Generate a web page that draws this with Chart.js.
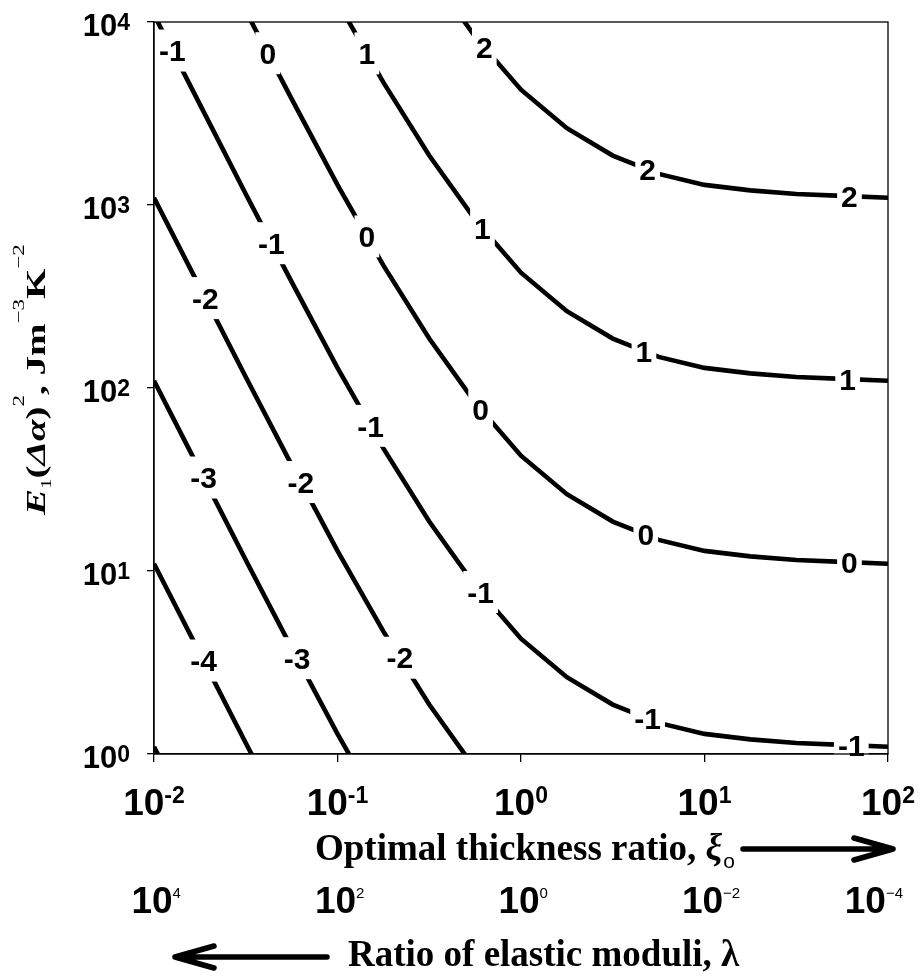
<!DOCTYPE html>
<html>
<head>
<meta charset="utf-8">
<script src="https://cdn.jsdelivr.net/npm/chart.js@4.4.1/dist/chart.umd.min.js"></script>
<style>
  html, body { margin: 0; padding: 0; background: #fff; }
  #wrap { width: 922px; height: 976px; }
</style>
</head>
<body>
<div id="wrap"><canvas id="contourChart" width="922" height="976"></canvas></div>
<script>
// log10 of the optimal thickness ratio, one sample every quarter decade
const xiExp = [-2, -1.75, -1.5, -1.25, -1, -0.75, -0.5, -0.25, 0, 0.25, 0.5, 0.75, 1, 1.25, 1.5, 1.75, 2];

// contour levels, and log10 E1(Δα)^2 (null = off the plot)
const levels = [2, 1, 0, -1, -2, -3, -4, -5];
const level2  = [null, null, null, null, null, null, 4.27, 3.92, 3.63, 3.42, 3.27, 3.17, 3.11, 3.08, 3.06, 3.05, 3.04];
const level1  = [null, null, null, null, 4.11, 3.67, 3.27, 2.92, 2.63, 2.42, 2.27, 2.17, 2.11, 2.08, 2.06, 2.05, 2.04];
const level0  = [null, null, 4.06, 3.58, 3.11, 2.67, 2.27, 1.92, 1.63, 1.42, 1.27, 1.17, 1.11, 1.08, 1.06, 1.05, 1.04];
const levelM1 = [4.04, 3.55, 3.06, 2.58, 2.11, 1.67, 1.27, 0.92, 0.63, 0.42, 0.27, 0.17, 0.11, 0.08, 0.06, 0.05, 0.04];
const levelM2 = [3.04, 2.55, 2.06, 1.58, 1.11, 0.67, 0.27, -0.08, null, null, null, null, null, null, null, null, null];
const levelM3 = [2.04, 1.55, 1.06, 0.58, 0.11, -0.33, null, null, null, null, null, null, null, null, null, null, null];
const levelM4 = [1.04, 0.55, 0.06, -0.42, null, null, null, null, null, null, null, null, null, null, null, null, null];
const levelM5 = [0.04, -0.45, null, null, null, null, null, null, null, null, null, null, null, null, null, null, null];
const contours = [level2, level1, level0, levelM1, levelM2, levelM3, levelM4, levelM5];

// where the inline level labels sit on each contour (log10 xi)
const labelSpots = [
  [-0.20, 0.69, 1.79],
  [-0.84, -0.21, 0.67, 1.78],
  [-1.38, -0.84, -0.22, 0.68, 1.79],
  [-1.90, -1.36, -0.82, -0.22, 0.69, 1.80],
  [-1.72, -1.20, -0.66],
  [-1.73, -1.22],
  [-1.73],
  []
];

// axis ticks
const xTicks = [0.01, 0.1, 1, 10, 100];
const xTickExp = ["-2", "-1", "0", "1", "2"];
const yTicks = [1, 10, 100, 1000, 10000];
const yTickExp = ["0", "1", "2", "3", "4"];
const lambdaTicks = [1e4, 1e2, 1, 1e-2, 1e-4];
const lambdaTickExp = ["4", "2", "0", "\u22122", "\u22124"];

const SANS = '"Liberation Sans", Arial, sans-serif';
const SERIF = '"Liberation Serif", "Times New Roman", serif';
const ink = "#000";

function power(ctx, base, exp, x, baseline, bigFont, smallFont, rise, mode, maxRight) {
    ctx.font = bigFont;
    const bw = ctx.measureText(base).width;
    ctx.font = smallFont;
    const ew = ctx.measureText(exp).width;
    let left;
    if (mode === "right") left = x - bw - ew;
    else if (mode === "base") left = x - bw / 2;
    else left = x - (bw + ew) / 2;
    if (maxRight && left + bw + ew > maxRight) left = maxRight - bw - ew;
    ctx.textAlign = "left";
    ctx.font = bigFont;
    ctx.fillText(base, left, baseline);
    ctx.font = smallFont;
    ctx.fillText(exp, left + bw, baseline - rise);
}

function runs(ctx, parts, x, squash) {
    let cx = x;
    parts.forEach(([text, font, dy]) => {
        ctx.font = font;
        ctx.fillText(text, cx, dy / squash);
        cx += ctx.measureText(text).width;
    });
    return cx;
}

function arrow(ctx, x1, x2, y, dir) {
    ctx.beginPath();
    ctx.moveTo(x1, y);
    ctx.lineTo(x2, y);
    const tip = dir > 0 ? x2 : x1;
    ctx.moveTo(tip - dir * 39, y - 11);
    ctx.lineTo(tip, y);
    ctx.lineTo(tip - dir * 39, y + 11);
    ctx.stroke();
}

const decorations = {
    id: "decorations",
    afterDatasetsDraw(chart) {
        const ctx = chart.ctx;
        const xs = chart.scales.x;
        ctx.save();
        ctx.font = "bold 30px " + SANS;
        ctx.textAlign = "center";
        levels.forEach((lv, i) => {
            const pts = chart.getDatasetMeta(i).data;
            labelSpots[i].forEach(lx => {
                const px = xs.getPixelForValue(Math.pow(10, lx));
                let py = null;
                for (let k = 0; k < pts.length - 1; k++) {
                    const a = pts[k], b = pts[k + 1];
                    if (px >= a.x && px <= b.x) {
                        py = a.y + (b.y - a.y) * (px - a.x) / (b.x - a.x);
                        break;
                    }
                }
                if (py === null) return;
                const txt = String(lv);
                const w = ctx.measureText(txt).width;
                ctx.fillStyle = "#fff";
                ctx.fillRect(px - w / 2 - 4, py - 21, w + 8, 42);
                ctx.fillStyle = ink;
                ctx.fillText(txt, px, py + 10.7);
            });
        });
        ctx.restore();
    },
    afterDraw(chart) {
        const ctx = chart.ctx;
        const a = chart.chartArea;
        const xs = chart.scales.x, ys = chart.scales.y, ls = chart.scales.lam;
        ctx.save();
        ctx.strokeStyle = ink;
        ctx.lineWidth = 1.3;
        ctx.strokeRect(a.left, a.top, a.right - a.left, a.bottom - a.top);

        ctx.fillStyle = ink;
        // y tick labels
        yTicks.forEach((v, i) => {
            const py = ys.getPixelForValue(v);
            power(ctx, "10", yTickExp[i], 130, py + 14, "bold 31px " + SANS, "bold 23px " + SANS, 6, "right");
        });
        // xi tick labels
        xTicks.forEach((v, i) => {
            const px = xs.getPixelForValue(v);
            power(ctx, "10", xTickExp[i], px, 815, "bold 37px " + SANS, "bold 23px " + SANS, 12, "center");
        });
        // lambda tick labels
        lambdaTicks.forEach((v, i) => {
            const px = ls.getPixelForValue(v);
            power(ctx, "10", lambdaTickExp[i], px - 2, 913, "bold 37px " + SANS, "15px " + SANS, 15, "base", 903);
        });

        // x titles
        ctx.textAlign = "left";
        ctx.font = "bold 37px " + SERIF;
        const t1 = "Optimal thickness ratio, ";
        ctx.fillText(t1, 315, 860);
        let cx = 315 + ctx.measureText(t1).width;
        ctx.font = "bold italic 37px " + SERIF;
        ctx.fillText("\u03BE", cx, 860);
        cx += ctx.measureText("\u03BE").width;
        ctx.font = "21px " + SANS;
        ctx.fillText("o", cx + 1, 868);

        ctx.font = "bold 37px " + SERIF;
        ctx.fillText("Ratio of elastic moduli, \u03BB", 348, 966);

        ctx.lineWidth = 5.5;
        ctx.lineCap = "round";
        ctx.lineJoin = "round";
        arrow(ctx, 743, 893, 849, 1);
        arrow(ctx, 175, 327, 957, -1);

        // y title, rotated and squashed across the reading direction
        const squash = 0.72;
        ctx.translate(45, 515);
        ctx.rotate(-Math.PI / 2);
        ctx.scale(1, squash);
        runs(ctx, [
            ["E", "bold italic 39px " + SERIF, 0],
            ["1", "21px " + SERIF, 6],
            ["(", "bold 39px " + SERIF, 0],
            ["\u0394\u03B1", "bold italic 39px " + SERIF, 0],
            [")", "bold 39px " + SERIF, 0],
            ["2", "23px " + SERIF, -21],
            [", ", "bold 39px " + SERIF, 0],
            ["Jm", "bold 39px " + SERIF, 0],
            ["\u22123", "23px " + SERIF, -21],
            ["K", "bold 39px " + SERIF, 0],
            ["\u22122", "23px " + SERIF, -21]
        ], 0, squash);
        ctx.restore();
    }
};

const datasets = levels.map((lv, i) => ({
    label: String(lv),
    data: xiExp
        .map((e, k) => (contours[i][k] === null ? null : { x: Math.pow(10, e), y: Math.pow(10, contours[i][k]) }))
        .filter(p => p !== null),
    borderColor: ink,
    borderWidth: 4.6,
    pointRadius: 0,
    tension: 0,
    fill: false
}));

const canvas = document.getElementById("contourChart");
new Chart(canvas.getContext("2d"), {
    type: "line",
    data: { datasets },
    options: {
        responsive: false,
        animation: false,
        events: [],
        layout: { padding: { top: 22, right: 34, left: 0, bottom: 0 } },
        plugins: { legend: { display: false }, tooltip: { enabled: false } },
        scales: {
            x: {
                type: "logarithmic",
                position: "bottom",
                min: 0.01,
                max: 100,
                afterBuildTicks: s => { s.ticks = xTicks.map(v => ({ value: v })); },
                afterFit: s => { s.height = 222; },
                ticks: { display: false },
                grid: { drawOnChartArea: false, tickLength: 8, color: ink, lineWidth: 1.3 },
                border: { color: ink, width: 1.3 }
            },
            lam: {
                type: "logarithmic",
                position: "bottom",
                display: false,
                reverse: true,
                min: 1e-4,
                max: 1e4
            },
            y: {
                type: "logarithmic",
                position: "left",
                min: 1,
                max: 10000,
                afterBuildTicks: s => { s.ticks = yTicks.map(v => ({ value: v })); },
                afterFit: s => { s.width = 154; },
                ticks: { display: false },
                grid: { drawOnChartArea: false, tickLength: 7, color: ink, lineWidth: 1.3 },
                border: { color: ink, width: 1.3 }
            }
        }
    },
    plugins: [decorations]
});
</script>
</body>
</html>
